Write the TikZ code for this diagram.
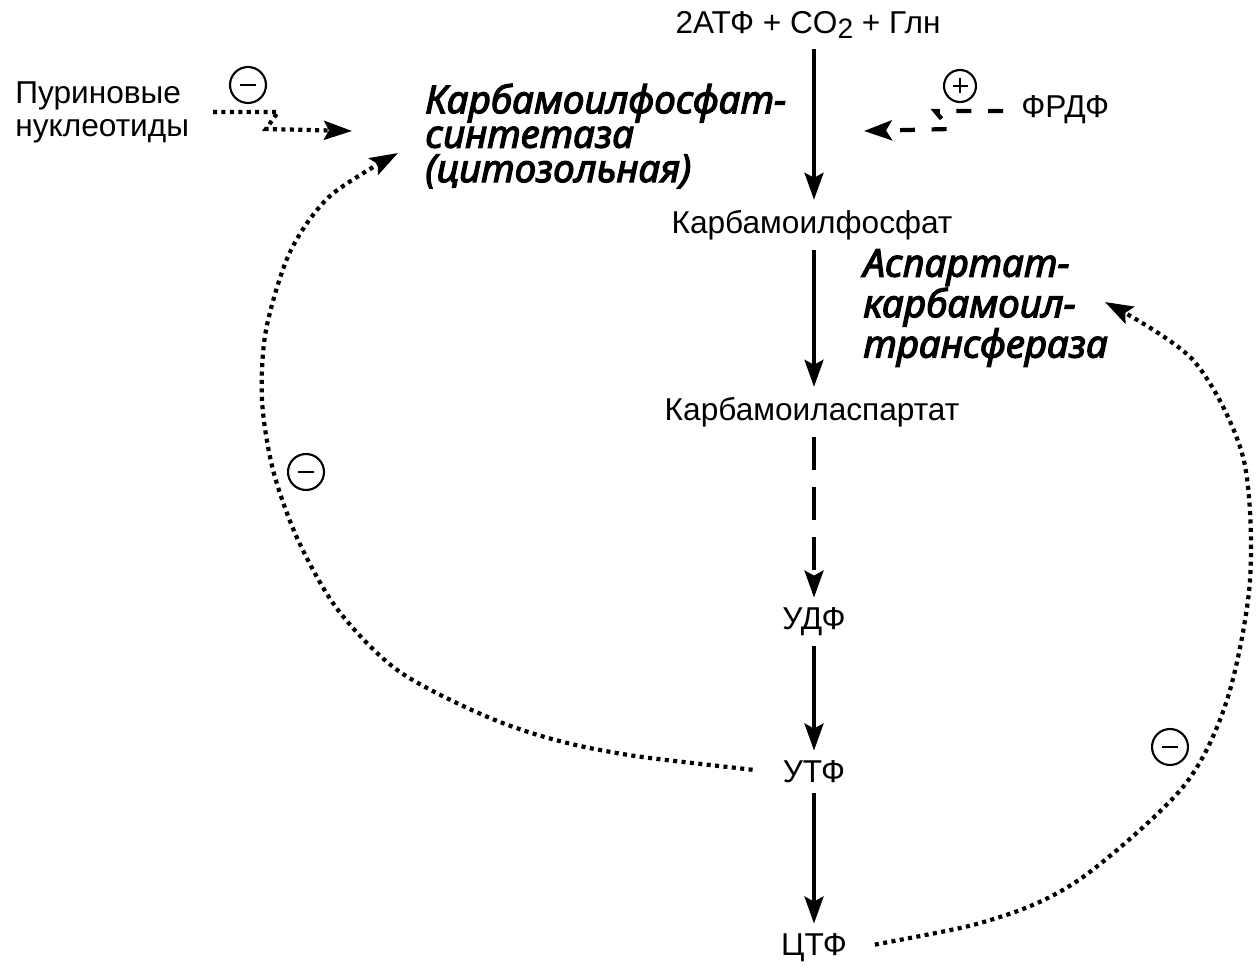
\documentclass[tikz,border=0pt]{standalone}
\usepackage{fontspec}
\setmainfont{Liberation Sans}
\newfontfamily\enzfont{Noto Sans}[ItalicFeatures={FakeBold=3}]
\usetikzlibrary{arrows.meta}

\newcommand{\minussign}{\rule[-0.8pt]{0.32cm}{1.6pt}}
\newcommand{\plussign}{\makebox[0pt]{\rule[-0.8pt]{0.3cm}{1.6pt}}\makebox[0pt]{\rule[-0.15cm]{1.6pt}{0.3cm}}}

\tikzset{
  chem/.style={font=\fontsize{18}{18}\selectfont, inner sep=0.2cm},
  enzyme/.style={font=\enzfont\itshape\fontsize{22}{19.6}\selectfont,
                 align=left, anchor=west, inner sep=0pt},
  sign/.style={circle, draw, line width=1.2pt, minimum size=0.72cm, inner sep=0pt},
  arr/.style={line width=2pt, -{Stealth[length=0.54cm, width=0.38cm, inset=0.1cm]}},
  dasharr/.style={arr, dash pattern=on 0.66cm off 0.34cm},
  regdash/.style={line width=2.4pt, dash pattern=on 8.5pt off 9.5pt,
                  -{Stealth[length=0.56cm, width=0.4cm, inset=0.12cm]}},
  regdot/.style={line width=2.4pt, dash pattern=on 2.3pt off 2.5pt,
                 -{Stealth[length=0.56cm, width=0.38cm, inset=0.1cm]}}
}

\begin{document}
\begin{tikzpicture}[x=0.02cm, y=-0.02cm]
  \useasboundingbox (0,0) rectangle (1258,973);

  % main pathway
  \node[chem] (sub) at (808,25) {2АТФ + CO\raisebox{-0.35ex}{\fontsize{16}{16}\selectfont 2} + Глн};
  \node[chem] (cp)  at (812,225) {Карбамоилфосфат};
  \node[chem] (ca)  at (812,412) {Карбамоиласпартат};
  \node[chem] (udp) at (814,622) {УДФ};
  \node[chem] (utp) at (814,772) {УТФ};
  \node[chem] (ctp) at (814,948) {ЦТФ};

  % enzymes
  \node[enzyme] (cps) at (425,136) {Карбамоилфосфат-\\синтетаза\\(цитозольная)};
  \node[enzyme] (atc) at (863,308) {Аспартат-\\карбамоил-\\трансфераза};

  % effectors
  \node[chem, anchor=west, inner sep=0pt, align=left, font=\fontsize{18}{18.7}\selectfont]
    (pur) at (15,112) {Пуриновые\\нуклеотиды};
  \node[chem, anchor=west, inner sep=0pt] (prpp) at (1021,110) {ФРДФ};

  \node[sign] (inhA) at (248,85)  {\minussign};
  \node[sign] (inhB) at (306,472) {\minussign};
  \node[sign] (inhC) at (1170,747) {\minussign};
  \node[sign, minimum size=0.64cm] (act) at (960,86) {\plussign};

  \coordinate (purA) at (213,112);
  \coordinate (purB) at (278,112);
  \coordinate (purC) at (266,129);
  \coordinate (purT) at (352,131);
  \coordinate (prA) at (1003,111);
  \coordinate (prB) at (935,111);
  \coordinate (prC) at (950,129);
  \coordinate (prT) at (864,131);

  % connectors
  \draw[arr] (sub.south -| utp.north) -- (cp.north -| utp.north);
  \draw[arr] (cp.south -| utp.north) -- (ca.north -| utp.north);
  \draw[dasharr] (ca.south -| utp.north) -- (udp.north);
  \draw[arr] (udp) -- (utp);
  \draw[arr] (utp) -- (ctp);

  % regulation
  \draw[regdot] (purA) -- (purB) -- (purC) -- (purT);
  \draw[regdash] (prA) -- (prB) -- (prC) -- (prT);
  \draw[regdot, shorten <=0.4cm] plot[smooth] coordinates
    {(utp.west) (600,750) (500,722) (400,672) (338,610) (298,540) (273,470) (262,400) (266,330) (290,252) (330,196) (398,153)};
  \draw[regdot, shorten <=0.36cm] plot[smooth] coordinates
    {(ctp.east) (1000,917) (1083,877) (1183,787) (1227,700) (1250,580) (1243,457) (1193,360) (1105,302)};
\end{tikzpicture}
\end{document}
